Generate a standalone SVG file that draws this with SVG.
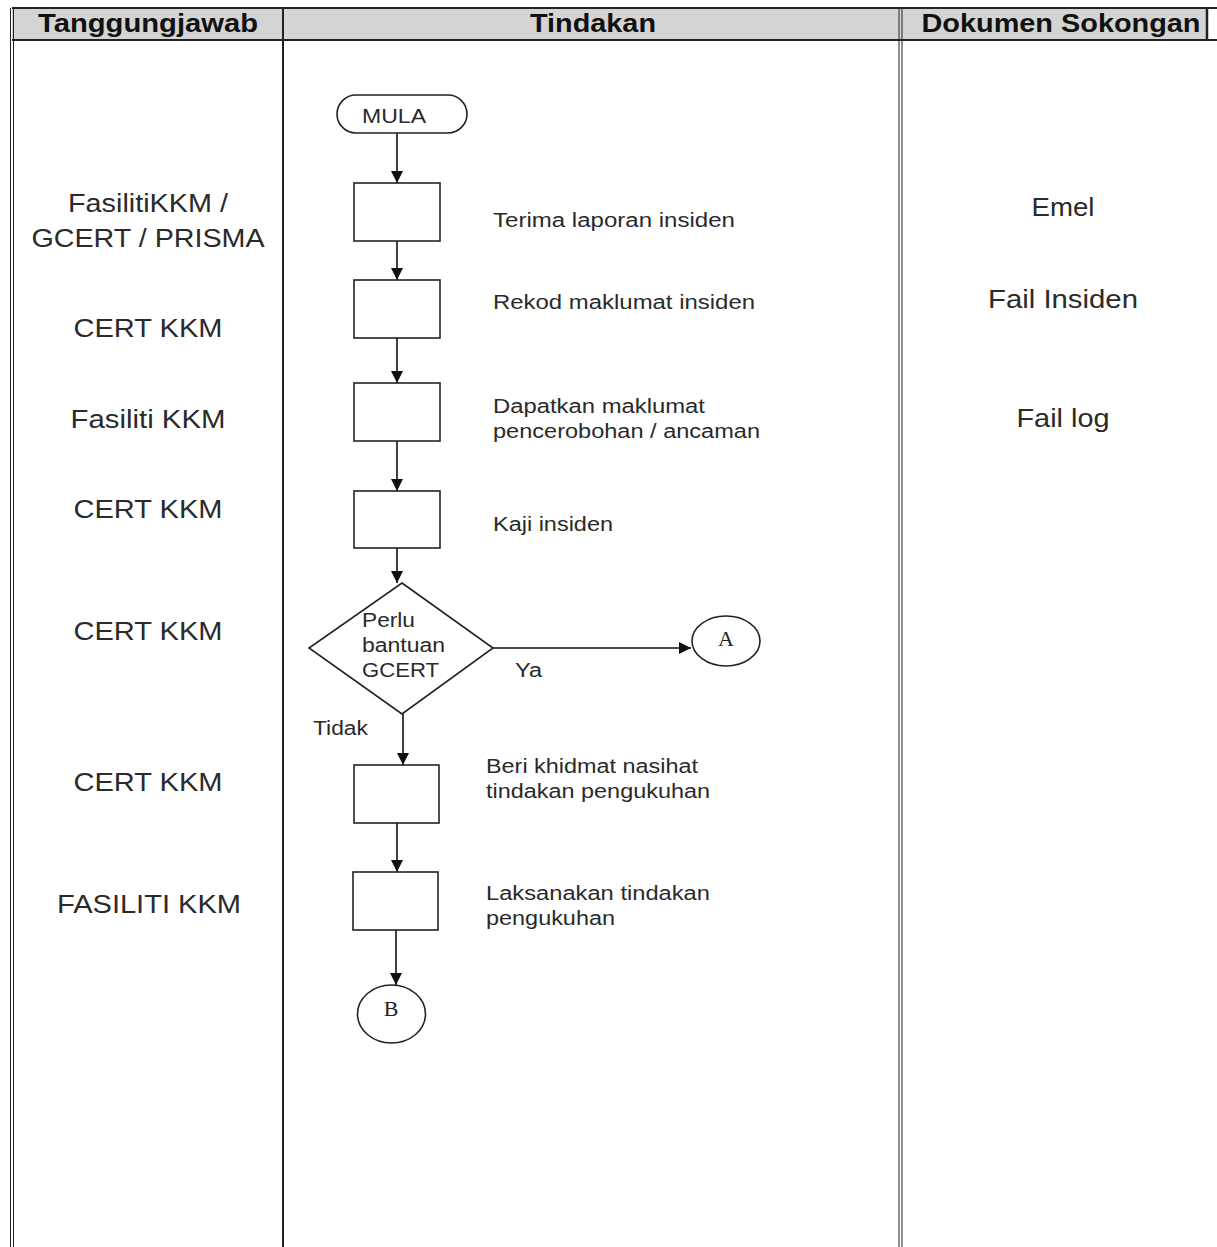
<svg xmlns="http://www.w3.org/2000/svg" width="1217" height="1247" viewBox="0 0 1217 1247">
<style>
.hdr{font-family:"Liberation Sans",Arial,sans-serif;font-weight:bold;font-size:26px;fill:#111;text-anchor:middle}
.lbl{font-family:"Liberation Sans",Arial,sans-serif;font-size:26px;fill:#2a2a2a;text-anchor:middle}
.ft{font-family:"Liberation Sans",Arial,sans-serif;font-size:20px;fill:#2a2a2a}
.ser{font-family:"Liberation Serif","Times New Roman",serif;font-size:22px;fill:#222;text-anchor:middle}
.shape{fill:#fff;stroke:#222;stroke-width:1.6}
.conn{stroke:#111;stroke-width:1.6;fill:none;marker-end:url(#arr)}
.grid{stroke:#222;fill:none}
</style>
<defs>
<marker id="arr" viewBox="0 0 12 12" refX="12" refY="6" markerWidth="12" markerHeight="12" orient="auto" markerUnits="userSpaceOnUse">
<path d="M0,0 L12,6 L0,12 z" fill="#111"/>
</marker>
</defs>
<rect width="1217" height="1247" fill="#fff"/>
<g id="table">
<rect x="12" y="8" width="1195" height="32" fill="#d4d4d4"/>
<line class="grid" x1="12" y1="8" x2="1217" y2="8" stroke-width="2"/>
<line class="grid" x1="12" y1="40" x2="1217" y2="40" stroke-width="2"/>
<line class="grid" x1="10.5" y1="8" x2="10.5" y2="1247" stroke-width="1" stroke="#555"/>
<line class="grid" x1="13.5" y1="8" x2="13.5" y2="1247" stroke-width="1" stroke="#555"/>
<line class="grid" x1="283" y1="8" x2="283" y2="1247" stroke-width="2"/>
<line class="grid" x1="899" y1="8" x2="899" y2="1247" stroke-width="1" stroke="#555"/>
<line class="grid" x1="902" y1="8" x2="902" y2="1247" stroke-width="1" stroke="#555"/>
<line class="grid" x1="1207" y1="8" x2="1207" y2="40" stroke-width="2.5"/>
<text class="hdr" x="148" y="32" textLength="220" lengthAdjust="spacingAndGlyphs">Tanggungjawab</text>
<text class="hdr" x="593" y="32" textLength="126" lengthAdjust="spacingAndGlyphs">Tindakan</text>
<text class="hdr" x="1061" y="32" textLength="279" lengthAdjust="spacingAndGlyphs">Dokumen Sokongan</text>
</g>
<g id="responsibility">
<text class="lbl" x="148" y="212" textLength="160" lengthAdjust="spacingAndGlyphs">FasilitiKKM /</text>
<text class="lbl" x="148" y="247" textLength="233" lengthAdjust="spacingAndGlyphs">GCERT / PRISMA</text>
<text class="lbl" x="148" y="337" textLength="149" lengthAdjust="spacingAndGlyphs">CERT KKM</text>
<text class="lbl" x="148" y="428" textLength="155" lengthAdjust="spacingAndGlyphs">Fasiliti KKM</text>
<text class="lbl" x="148" y="518" textLength="149" lengthAdjust="spacingAndGlyphs">CERT KKM</text>
<text class="lbl" x="148" y="640" textLength="149" lengthAdjust="spacingAndGlyphs">CERT KKM</text>
<text class="lbl" x="148" y="791" textLength="149" lengthAdjust="spacingAndGlyphs">CERT KKM</text>
<text class="lbl" x="149" y="913" textLength="184" lengthAdjust="spacingAndGlyphs">FASILITI KKM</text>
</g>
<g id="documents">
<text class="lbl" x="1063" y="216" textLength="63" lengthAdjust="spacingAndGlyphs">Emel</text>
<text class="lbl" x="1063" y="308" textLength="150" lengthAdjust="spacingAndGlyphs">Fail Insiden</text>
<text class="lbl" x="1063" y="427" textLength="93" lengthAdjust="spacingAndGlyphs">Fail log</text>
</g>
<g id="connectors">
<line class="conn" x1="397" y1="133" x2="397" y2="183"/>
<line class="conn" x1="397" y1="241" x2="397" y2="280"/>
<line class="conn" x1="397" y1="338" x2="397" y2="383"/>
<line class="conn" x1="397" y1="441" x2="397" y2="491"/>
<line class="conn" x1="397" y1="548" x2="397" y2="583"/>
<line class="conn" x1="493" y1="648" x2="691" y2="648"/>
<line class="conn" x1="403" y1="714" x2="403" y2="765"/>
<line class="conn" x1="397" y1="823" x2="397" y2="872"/>
<line class="conn" x1="396" y1="930" x2="396" y2="985"/>
</g>
<g id="mula">
<rect class="shape" x="337" y="95" width="130" height="38" rx="19"/>
<text class="ft" x="394" y="123" text-anchor="middle" textLength="64" lengthAdjust="spacingAndGlyphs">MULA</text>
</g>
<g id="step1">
<rect class="shape" x="354" y="183" width="86" height="58"/>
<text class="ft" x="493" y="227" textLength="242" lengthAdjust="spacingAndGlyphs">Terima laporan insiden</text>
</g>
<g id="step2">
<rect class="shape" x="354" y="280" width="86" height="58"/>
<text class="ft" x="493" y="309" textLength="262" lengthAdjust="spacingAndGlyphs">Rekod maklumat insiden</text>
</g>
<g id="step3">
<rect class="shape" x="354" y="383" width="86" height="58"/>
<text class="ft" x="493" y="413" textLength="212" lengthAdjust="spacingAndGlyphs">Dapatkan maklumat</text>
<text class="ft" x="493" y="438" textLength="267" lengthAdjust="spacingAndGlyphs">pencerobohan / ancaman</text>
</g>
<g id="step4">
<rect class="shape" x="354" y="491" width="86" height="57"/>
<text class="ft" x="493" y="531" textLength="120" lengthAdjust="spacingAndGlyphs">Kaji insiden</text>
</g>
<g id="decision">
<polygon class="shape" points="402,583 493,648 402,714 309,648"/>
<text class="ft" x="362" y="627" textLength="53" lengthAdjust="spacingAndGlyphs">Perlu</text>
<text class="ft" x="362" y="652" textLength="83" lengthAdjust="spacingAndGlyphs">bantuan</text>
<text class="ft" x="362" y="677" textLength="77" lengthAdjust="spacingAndGlyphs">GCERT</text>
<text class="ft" x="515" y="677" textLength="27" lengthAdjust="spacingAndGlyphs">Ya</text>
<text class="ft" x="313" y="735" textLength="55" lengthAdjust="spacingAndGlyphs">Tidak</text>
</g>
<g id="connectorA">
<ellipse class="shape" cx="726" cy="641" rx="34" ry="25"/>
<text class="ser" x="726" y="646">A</text>
</g>
<g id="step5">
<rect class="shape" x="354" y="765" width="85" height="58"/>
<text class="ft" x="486" y="773" textLength="212" lengthAdjust="spacingAndGlyphs">Beri khidmat nasihat</text>
<text class="ft" x="486" y="798" textLength="224" lengthAdjust="spacingAndGlyphs">tindakan pengukuhan</text>
</g>
<g id="step6">
<rect class="shape" x="353" y="872" width="85" height="58"/>
<text class="ft" x="486" y="900" textLength="224" lengthAdjust="spacingAndGlyphs">Laksanakan tindakan</text>
<text class="ft" x="486" y="925" textLength="129" lengthAdjust="spacingAndGlyphs">pengukuhan</text>
</g>
<g id="connectorB">
<ellipse class="shape" cx="391.5" cy="1014" rx="34" ry="29"/>
<text class="ser" x="391" y="1016">B</text>
</g>
</svg>
